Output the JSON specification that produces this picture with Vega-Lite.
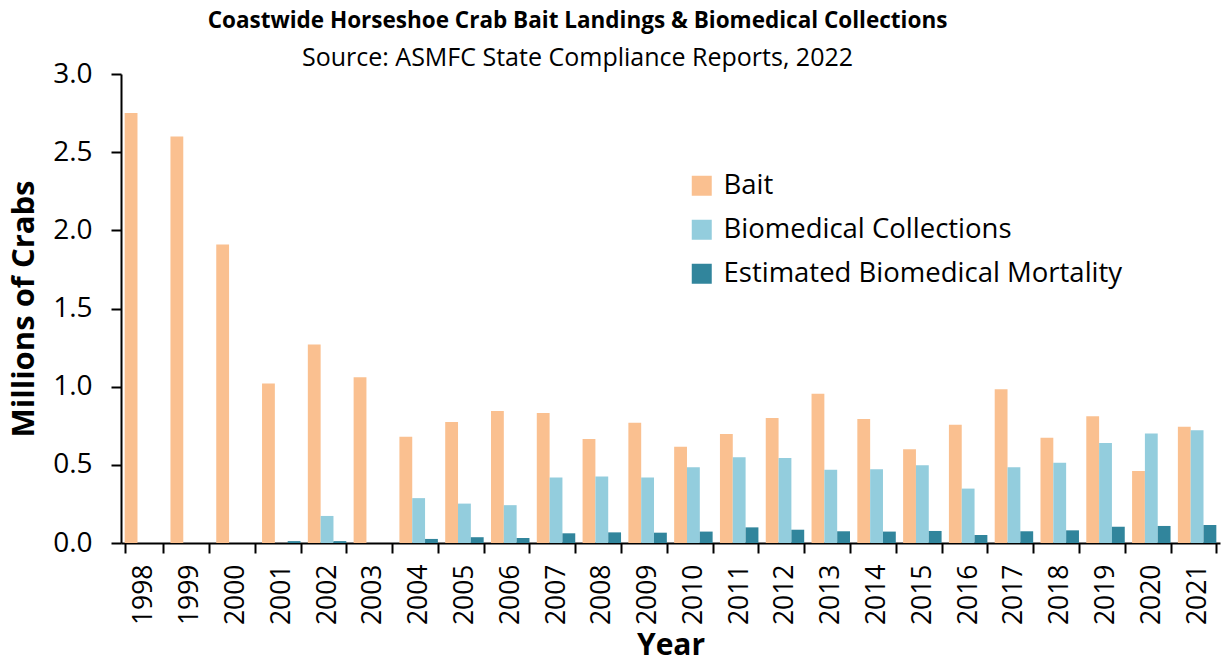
{
  "$schema": "https://vega.github.io/schema/vega-lite/v6.json",
  "width": 1099,
  "height": 469,
  "autosize": {"type": "none"},
  "padding": {"left": 121, "top": 74, "right": 5, "bottom": 124},
  "background": "white",
  "config": {
    "font": "Open Sans",
    "view": {"stroke": null},
    "axis": {"grid": false}
  },
  "title": {
    "text": "Coastwide Horseshoe Crab Bait Landings & Biomedical Collections",
    "subtitle": "Source: ASMFC State Compliance Reports, 2022",
    "font": "Open Sans",
    "fontSize": 22.5,
    "fontWeight": "bold",
    "subtitleFont": "Open Sans",
    "subtitleFontSize": 25,
    "subtitleColor": "black",
    "color": "black",
    "anchor": "middle",
    "dx": -93,
    "offset": -11,
    "subtitlePadding": 14
  },
  "data": {
    "values": [
      {"year": "1998", "series": "Bait", "value": 2.75},
      {"year": "1999", "series": "Bait", "value": 2.60},
      {"year": "2000", "series": "Bait", "value": 1.91},
      {"year": "2001", "series": "Bait", "value": 1.02},
      {"year": "2001", "series": "Biomedical Collections", "value": 0.0},
      {"year": "2001", "series": "Estimated Biomedical Mortality", "value": 0.012},
      {"year": "2002", "series": "Bait", "value": 1.27},
      {"year": "2002", "series": "Biomedical Collections", "value": 0.173},
      {"year": "2002", "series": "Estimated Biomedical Mortality", "value": 0.012},
      {"year": "2003", "series": "Bait", "value": 1.06},
      {"year": "2004", "series": "Bait", "value": 0.68},
      {"year": "2004", "series": "Biomedical Collections", "value": 0.287},
      {"year": "2004", "series": "Estimated Biomedical Mortality", "value": 0.026},
      {"year": "2005", "series": "Bait", "value": 0.774},
      {"year": "2005", "series": "Biomedical Collections", "value": 0.252},
      {"year": "2005", "series": "Estimated Biomedical Mortality", "value": 0.037},
      {"year": "2006", "series": "Bait", "value": 0.844},
      {"year": "2006", "series": "Biomedical Collections", "value": 0.242},
      {"year": "2006", "series": "Estimated Biomedical Mortality", "value": 0.032},
      {"year": "2007", "series": "Bait", "value": 0.831},
      {"year": "2007", "series": "Biomedical Collections", "value": 0.419},
      {"year": "2007", "series": "Estimated Biomedical Mortality", "value": 0.062},
      {"year": "2008", "series": "Bait", "value": 0.665},
      {"year": "2008", "series": "Biomedical Collections", "value": 0.425},
      {"year": "2008", "series": "Estimated Biomedical Mortality", "value": 0.068},
      {"year": "2009", "series": "Bait", "value": 0.769},
      {"year": "2009", "series": "Biomedical Collections", "value": 0.419},
      {"year": "2009", "series": "Estimated Biomedical Mortality", "value": 0.066},
      {"year": "2010", "series": "Bait", "value": 0.615},
      {"year": "2010", "series": "Biomedical Collections", "value": 0.485},
      {"year": "2010", "series": "Estimated Biomedical Mortality", "value": 0.073},
      {"year": "2011", "series": "Bait", "value": 0.697},
      {"year": "2011", "series": "Biomedical Collections", "value": 0.549},
      {"year": "2011", "series": "Estimated Biomedical Mortality", "value": 0.10},
      {"year": "2012", "series": "Bait", "value": 0.80},
      {"year": "2012", "series": "Biomedical Collections", "value": 0.543},
      {"year": "2012", "series": "Estimated Biomedical Mortality", "value": 0.085},
      {"year": "2013", "series": "Bait", "value": 0.955},
      {"year": "2013", "series": "Biomedical Collections", "value": 0.468},
      {"year": "2013", "series": "Estimated Biomedical Mortality", "value": 0.075},
      {"year": "2014", "series": "Bait", "value": 0.793},
      {"year": "2014", "series": "Biomedical Collections", "value": 0.472},
      {"year": "2014", "series": "Estimated Biomedical Mortality", "value": 0.073},
      {"year": "2015", "series": "Bait", "value": 0.60},
      {"year": "2015", "series": "Biomedical Collections", "value": 0.498},
      {"year": "2015", "series": "Estimated Biomedical Mortality", "value": 0.077},
      {"year": "2016", "series": "Bait", "value": 0.756},
      {"year": "2016", "series": "Biomedical Collections", "value": 0.348},
      {"year": "2016", "series": "Estimated Biomedical Mortality", "value": 0.051},
      {"year": "2017", "series": "Bait", "value": 0.983},
      {"year": "2017", "series": "Biomedical Collections", "value": 0.485},
      {"year": "2017", "series": "Estimated Biomedical Mortality", "value": 0.075},
      {"year": "2018", "series": "Bait", "value": 0.673},
      {"year": "2018", "series": "Biomedical Collections", "value": 0.513},
      {"year": "2018", "series": "Estimated Biomedical Mortality", "value": 0.081},
      {"year": "2019", "series": "Bait", "value": 0.81},
      {"year": "2019", "series": "Biomedical Collections", "value": 0.639},
      {"year": "2019", "series": "Estimated Biomedical Mortality", "value": 0.104},
      {"year": "2020", "series": "Bait", "value": 0.46},
      {"year": "2020", "series": "Biomedical Collections", "value": 0.70},
      {"year": "2020", "series": "Estimated Biomedical Mortality", "value": 0.109},
      {"year": "2021", "series": "Bait", "value": 0.744},
      {"year": "2021", "series": "Biomedical Collections", "value": 0.722},
      {"year": "2021", "series": "Estimated Biomedical Mortality", "value": 0.115}
    ]
  },
  "mark": {"type": "bar"},
  "encoding": {
    "x": {
      "field": "year",
      "type": "ordinal",
      "scale": {"paddingInner": 0.16, "paddingOuter": 0.08},
      "axis": {
        "title": "Year",
        "titleFontSize": 30,
        "titleFontWeight": "bold",
        "titleColor": "black",
        "titlePadding": 6,
        "labelAngle": -90,
        "labelAlign": "right",
        "labelBaseline": "middle",
        "labelFontSize": 26.5,
        "labelColor": "black",
        "labelPadding": 11,
        "tickBand": "extent",
        "tickSize": 10,
        "tickWidth": 2,
        "tickColor": "black",
        "domainColor": "black",
        "domainWidth": 2
      }
    },
    "xOffset": {
      "field": "series",
      "type": "nominal",
      "sort": ["Bait", "Biomedical Collections", "Estimated Biomedical Mortality"]
    },
    "y": {
      "field": "value",
      "type": "quantitative",
      "scale": {"domain": [0, 3], "nice": false},
      "axis": {
        "title": "Millions of Crabs",
        "titleFontSize": 31,
        "titleFontWeight": "bold",
        "titleColor": "black",
        "titlePadding": 12,
        "values": [0, 0.5, 1, 1.5, 2, 2.5, 3],
        "format": ".1f",
        "labelFontSize": 28,
        "labelColor": "black",
        "labelPadding": 19,
        "tickSize": 10,
        "tickWidth": 2,
        "tickColor": "black",
        "domainColor": "black",
        "domainWidth": 2
      }
    },
    "color": {
      "field": "series",
      "type": "nominal",
      "sort": ["Bait", "Biomedical Collections", "Estimated Biomedical Mortality"],
      "scale": {
        "domain": ["Bait", "Biomedical Collections", "Estimated Biomedical Mortality"],
        "range": ["#FAC090", "#93CDDD", "#31859C"]
      },
      "legend": {
        "title": null,
        "orient": "none",
        "legendX": 567,
        "legendY": 98,
        "symbolType": "square",
        "symbolSize": 400,
        "symbolStrokeWidth": 0,
        "labelFontSize": 27.5,
        "labelColor": "black",
        "labelOffset": 8,
        "rowPadding": 15,
        "labelLimit": 600
      }
    }
  }
}
